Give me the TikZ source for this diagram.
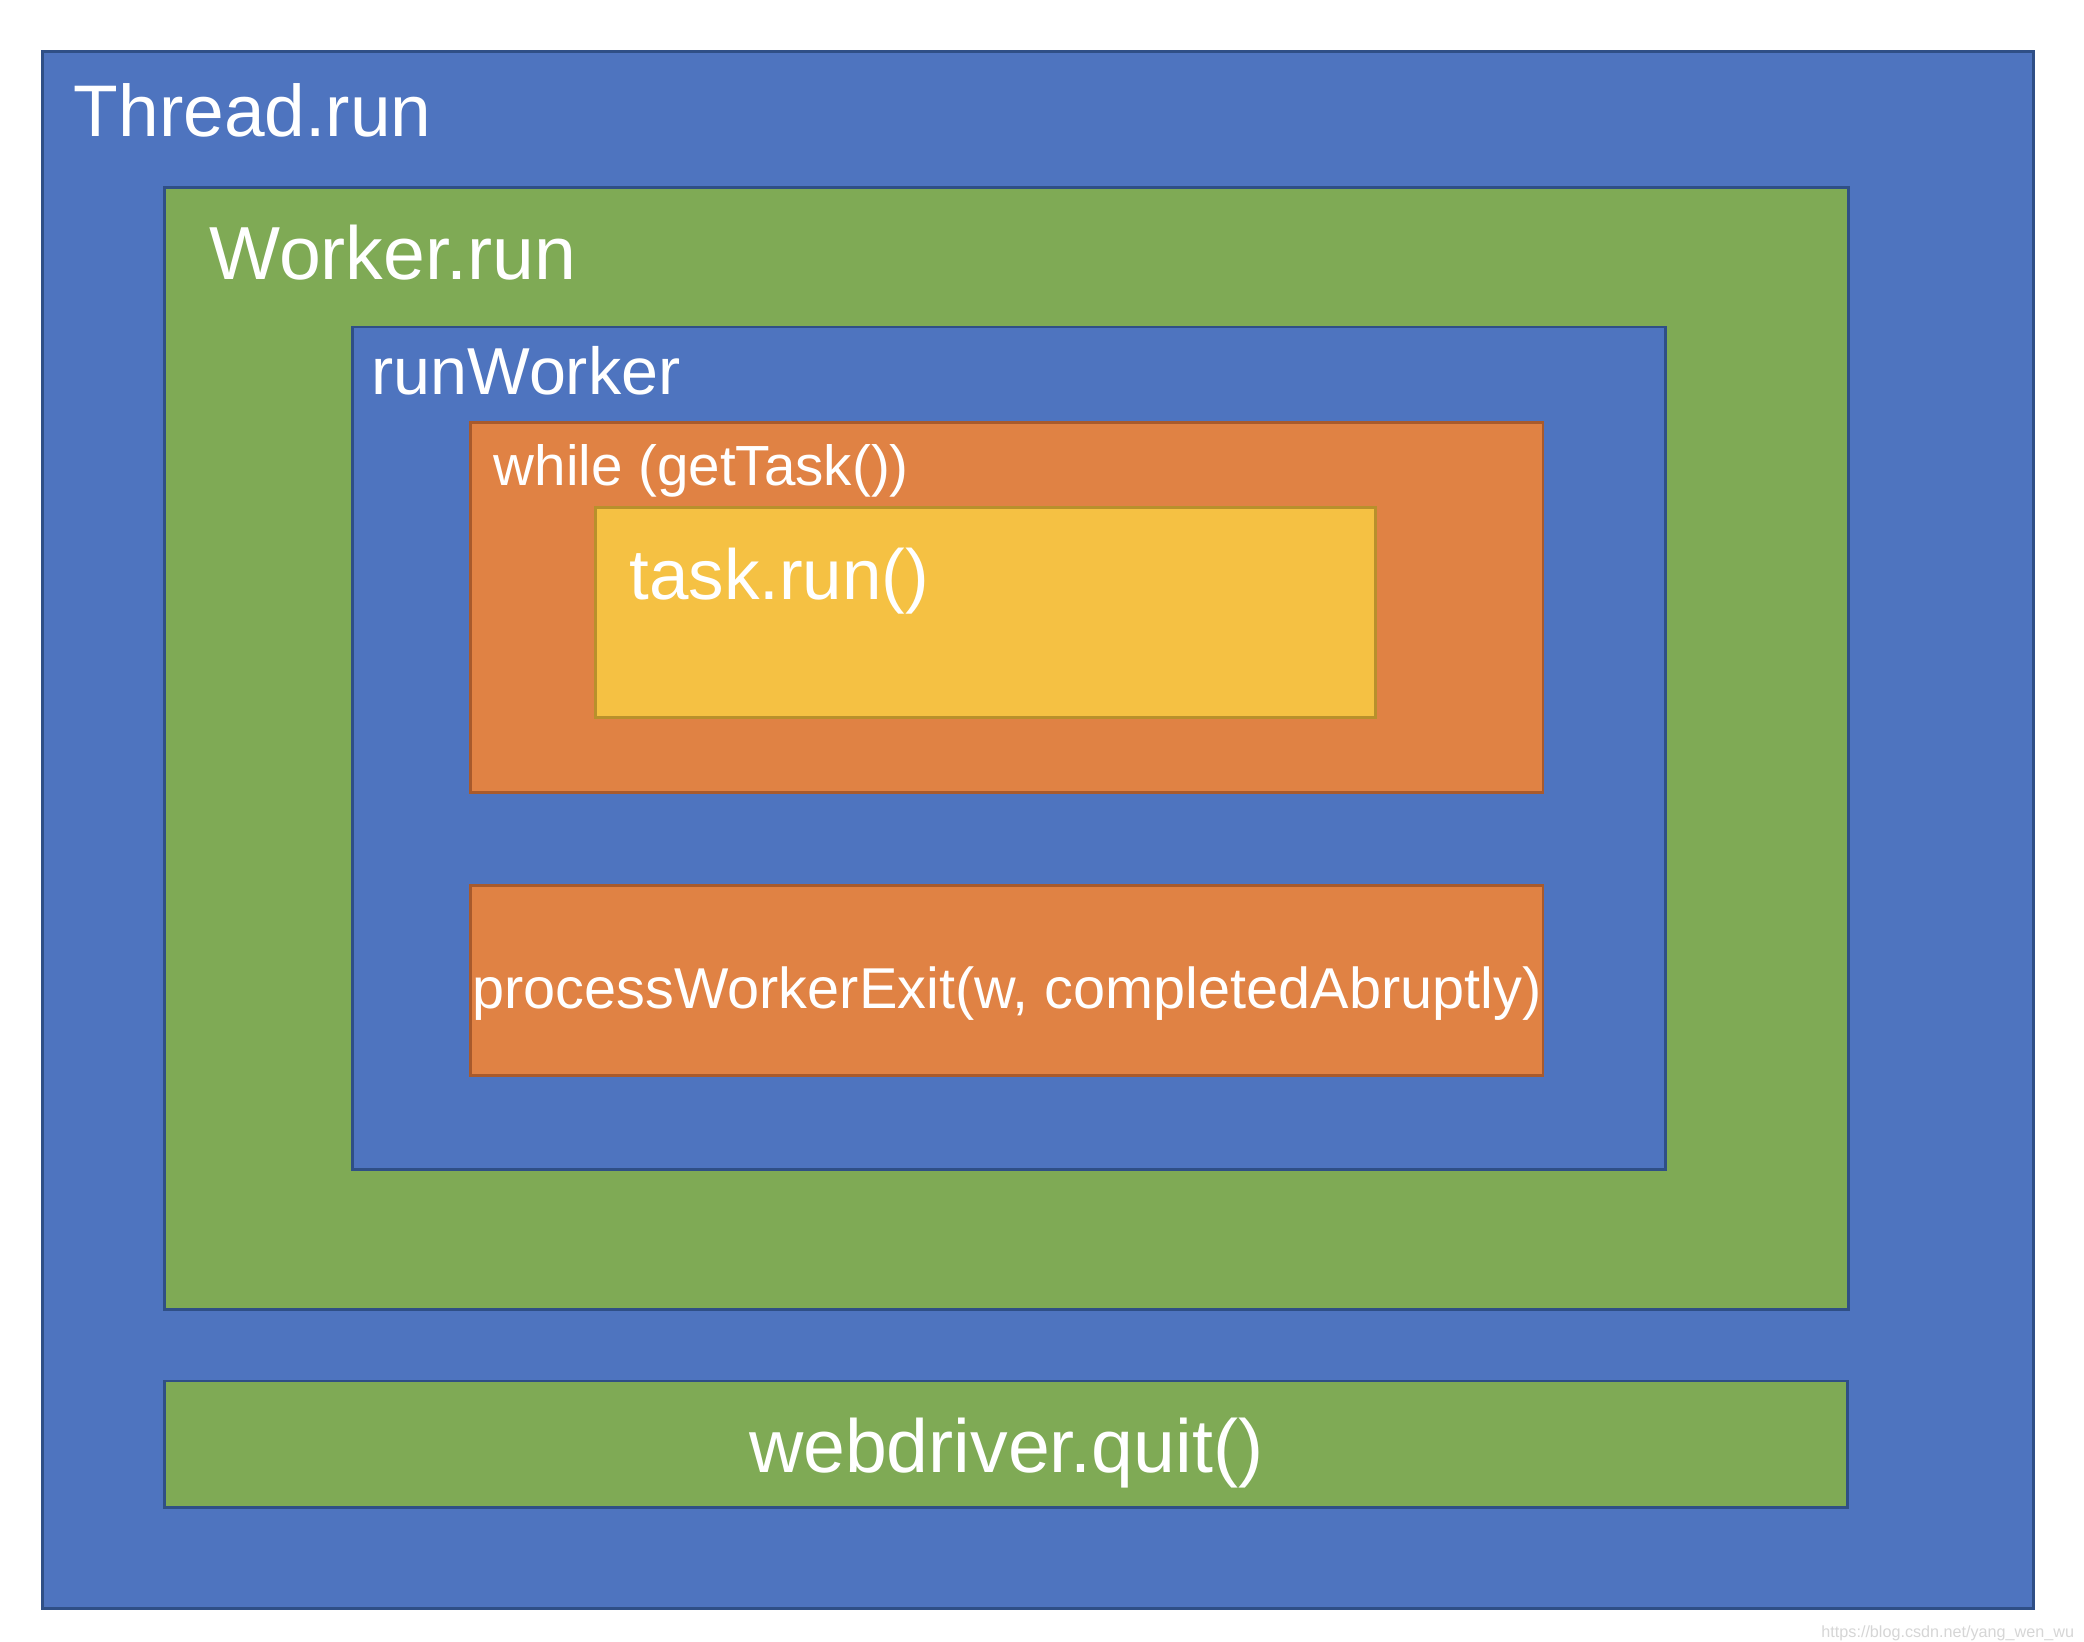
\documentclass[tikz,border=0pt]{standalone}
\usepackage{fontspec}
\setmainfont{Liberation Sans}
\usepackage{xcolor}
\usepackage{tikz}
\definecolor{boxblue}{HTML}{4E74BF}
\definecolor{edgeblue}{HTML}{2F4F86}
\definecolor{boxgreen}{HTML}{7FAA55}
\definecolor{boxorange}{HTML}{E08244}
\definecolor{edgeorange}{HTML}{A85A2C}
\definecolor{boxyellow}{HTML}{F5C143}
\definecolor{edgeyellow}{HTML}{B8902C}
\definecolor{wmark}{HTML}{D6D6D6}
\tikzset{
  bluebox/.style={fill=boxblue, draw=edgeblue, line width=0.8pt},
  greenbox/.style={fill=boxgreen, draw=edgeblue, line width=0.8pt},
  orangebox/.style={fill=boxorange, draw=edgeorange, line width=0.8pt},
  yellowbox/.style={fill=boxyellow, draw=edgeyellow, line width=0.8pt},
  lab/.style={text=white, inner sep=0pt, anchor=base west},
}

\begin{document}
\begin{tikzpicture}[x=0.01329cm, y=-0.01329cm]
\useasboundingbox (0,0) rectangle (1568,1235);
\fill[white] (0,0) rectangle (1568,1235);

% Thread.run
\draw[bluebox] (32,39) rectangle (1530,1210);
\node[lab,font=\fontsize{20.8}{24}\selectfont] (thread) at (55,103) {Thread.run};

% Worker.run
\draw[greenbox] (124,141) rectangle (1391,985);
\node[lab,font=\fontsize{21.4}{24}\selectfont] (worker) at (157,210) {Worker.run};

% runWorker
\draw[bluebox] (265,246) rectangle (1253,880);
\node[lab,font=\fontsize{18.9}{22}\selectfont] (runworker) at (279,297) {runWorker};

% while loop
\draw[orangebox] (354,318) rectangle (1161,596);
\node[lab,font=\fontsize{16.1}{19}\selectfont] (loop) at (371,365) {while (getTask())};
\draw[yellowbox] (448,382) rectangle (1035,540);
\node[lab,font=\fontsize{20.2}{24}\selectfont] (task) at (473,451) {task.run()};

% exit
\draw[orangebox] (354,666) rectangle (1161,809);
\node[lab,font=\fontsize{16.4}{19}\selectfont] (exit) at (355,759) {processWorkerExit(w, completedAbruptly)};

% webdriver
\draw[greenbox] (124,1039) rectangle (1390,1134);
\node[lab,anchor=base,font=\fontsize{21.4}{24}\selectfont] (quit) at (757,1108) {webdriver.quit()};

\node[text=wmark,inner sep=0pt,anchor=east,font=\fontsize{4.6}{5}\selectfont] (mark) at (1561,1229) {https://blog.csdn.net/yang\_wen\_wu};
\end{tikzpicture}
\end{document}
